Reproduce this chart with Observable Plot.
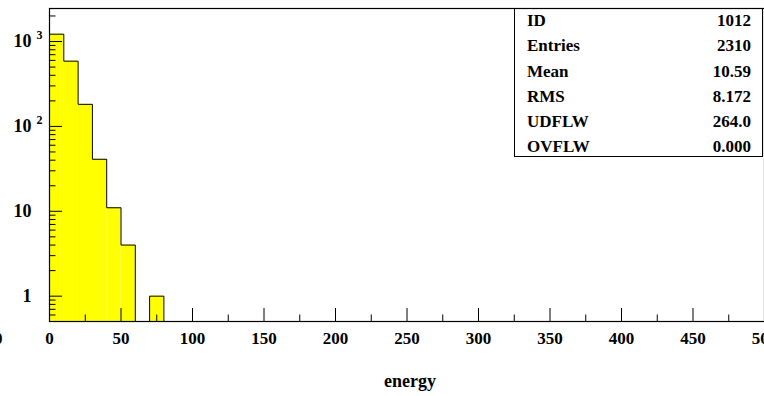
<!DOCTYPE html>
<html><head><meta charset="utf-8">
<script src="https://cdn.jsdelivr.net/npm/d3@7"></script>
<script src="https://cdn.jsdelivr.net/npm/@observablehq/plot@0.6"></script>
<style>
body{margin:0;background:#fff;}
#wrap{position:relative;width:764px;height:396px;overflow:hidden;}
#stats{position:absolute;left:514px;top:8px;width:249px;height:149px;box-sizing:border-box;border:1px solid #000;border-top:none;font:bold 17px "Liberation Serif",serif;color:#000;}
.row{display:flex;justify-content:space-between;height:25.3px;line-height:25.3px;padding:0 11px 0 12px;}
</style></head><body><div id="wrap"></div>
<script>
// histogram bins (energy)
const binStart = [0, 10, 20, 30, 40, 50, 60, 70];
const binWidth = 10;
const counts = [1220, 587, 182, 41, 11, 4, 0, 1];

// axes
const xDomain = [0, 500];
const yDomain = [0.503, 2450];
const xTicks = [0, 50, 100, 150, 200, 250, 300, 350, 400, 450, 500];
const xMinorTicks = [25, 75, 125, 175, 225, 275, 325, 375, 425, 475];
const yMajorTicks = [1, 10, 100, 1000];
const yTickLabels = ["1", "10", "10", "10"];
const yTickExponents = ["", "", "2", "3"];
const yMinorTicks = [0.6, 0.7, 0.8, 0.9, 2, 3, 4, 5, 6, 7, 8, 9, 20, 30, 40, 50, 60, 70, 80, 90, 200, 300, 400, 500, 600, 700, 800, 900, 2000];
const xLabel = "energy";

// statistics box
const statLabels = ["ID", "Entries", "Mean", "RMS", "UDFLW", "OVFLW"];
const statValues = ["1012", "2310", "10.59", "8.172", "264.0", "0.000"];

const yMin = yDomain[0];
const bars = binStart.map((s, i) => ({x1: s, x2: s + binWidth, c: counts[i]})).filter(d => d.c > 0);
const outline = [{x: binStart[0], y: yMin}];
binStart.forEach((s, i) => outline.push({x: s, y: counts[i] > 0 ? counts[i] : yMin}));
outline.push({x: binStart[binStart.length - 1] + binWidth, y: yMin});

const expData = yMajorTicks.map((v, i) => ({v, e: yTickExponents[i]})).filter(d => d.e);

const chart = Plot.plot({
  width: 764,
  height: 396,
  marginLeft: 49,
  marginRight: 0,
  marginTop: 8,
  marginBottom: 75,
  style: {fontFamily: "'Liberation Serif', serif", fontWeight: "bold", fontSize: "17px", color: "#000", background: "#fff", overflow: "visible"},
  x: {domain: xDomain},
  y: {type: "log", domain: yDomain},
  marks: [
    Plot.rect(bars, {x1: "x1", x2: "x2", y1: yMin, y2: "c", fill: "#ffff00"}),
    Plot.line(outline, {x: "x", y: "y", curve: "step-after", stroke: "#000", strokeWidth: 1}),
    Plot.frame({stroke: "#000", strokeWidth: 1.2}),
    Plot.ruleX(xTicks, {x: d => d, y1: yMin, y2: yMin, insetBottom: 13, stroke: "#000"}),
    Plot.ruleX(xMinorTicks, {x: d => d, y1: yMin, y2: yMin, insetBottom: 6.5, stroke: "#000"}),
    Plot.ruleY(yMajorTicks, {y: d => d, x1: xDomain[0], x2: xDomain[0], insetLeft: 13, stroke: "#000"}),
    Plot.ruleY(yMinorTicks, {y: d => d, x1: xDomain[0], x2: xDomain[0], insetLeft: 6.5, stroke: "#000"}),
    Plot.axisX({ticks: xTicks, tickSize: 0, tickPadding: 10, label: null, tickFormat: d => String(d), fontSize: 17}),
    Plot.axisY({ticks: yMajorTicks, tickSize: 0, tickPadding: 18, label: null, tickFormat: d => yTickLabels[yMajorTicks.indexOf(d)], fontSize: 18}),
    Plot.text(expData, {frameAnchor: "left", y: "v", text: "e", textAnchor: "start", dx: -13, dy: -6, fontSize: 12}),
    Plot.text(["0"], {frameAnchor: "bottom-left", lineAnchor: "top", textAnchor: "end", dx: -47, dy: 10, fontSize: 17}),
    Plot.text([xLabel], {frameAnchor: "bottom", lineAnchor: "middle", dx: 3, dy: 60, fontSize: 18})
  ]
});

const wrap = document.getElementById("wrap");
wrap.appendChild(chart);
const box = document.createElement("div");
box.id = "stats";
statLabels.forEach((l, i) => {
  const r = document.createElement("div");
  r.className = "row";
  const a = document.createElement("span"); a.textContent = l;
  const b = document.createElement("span"); b.textContent = statValues[i];
  r.appendChild(a); r.appendChild(b);
  box.appendChild(r);
});
wrap.appendChild(box);
</script></body></html>
